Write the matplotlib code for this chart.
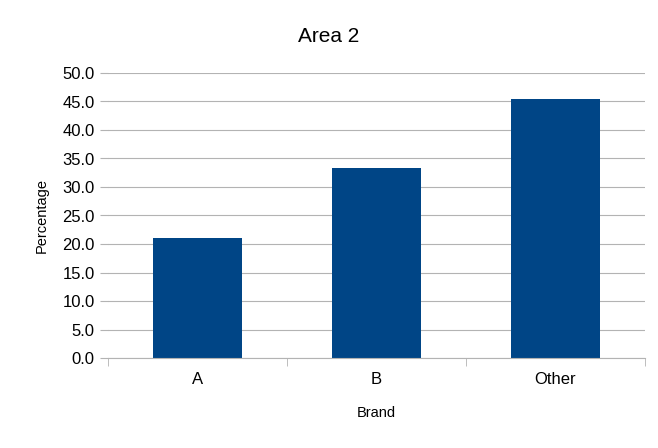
import matplotlib
matplotlib.use("Agg")
import matplotlib.pyplot as plt

categories = ["A", "B", "Other"]
values = [21.1, 33.3, 45.5]
yticks = [0, 5, 10, 15, 20, 25, 30, 35, 40, 45, 50]

plt.rcParams['font.family'] = ['Liberation Sans', 'DejaVu Sans']
fig = plt.figure(figsize=(6.58, 4.48), dpi=100)
ax = fig.add_axes([108/658, 1-358/448, (645-108)/658, (358-73)/448])
x = list(range(len(categories)))
ax.bar(x, values, width=0.5, color="#004586", zorder=2)
ax.set_xlim(-0.5, len(categories)-0.5)
ax.set_ylim(0, 50)
ax.set_yticks(yticks)
ax.set_yticklabels([f"{v:.1f}" for v in yticks], fontsize=12)
ax.set_xticks(x)
ax.set_xticklabels(categories, fontsize=12)
ax.set_xticks([-0.5, 0.5, 1.5, 2.5], minor=True)
ax.tick_params(axis='x', which='major', length=0, pad=10)
ax.tick_params(axis='x', which='minor', length=6, color="#b3b3b3")
ax.tick_params(axis='y', length=6, color="#b3b3b3")
ax.grid(axis='y', color="#b3b3b3", linewidth=0.8, zorder=0)
for s in ["top", "right", "left"]:
    ax.spines[s].set_visible(False)
ax.spines["bottom"].set_color("#b3b3b3")
ax.set_xlabel("Brand", fontsize=10.5, labelpad=14)
ax.set_ylabel("Percentage", fontsize=10.5, labelpad=10)
fig.text(0.5, 1-36/448, "Area 2", ha="center", va="center", fontsize=15)
fig.savefig("out.png", dpi=100)
